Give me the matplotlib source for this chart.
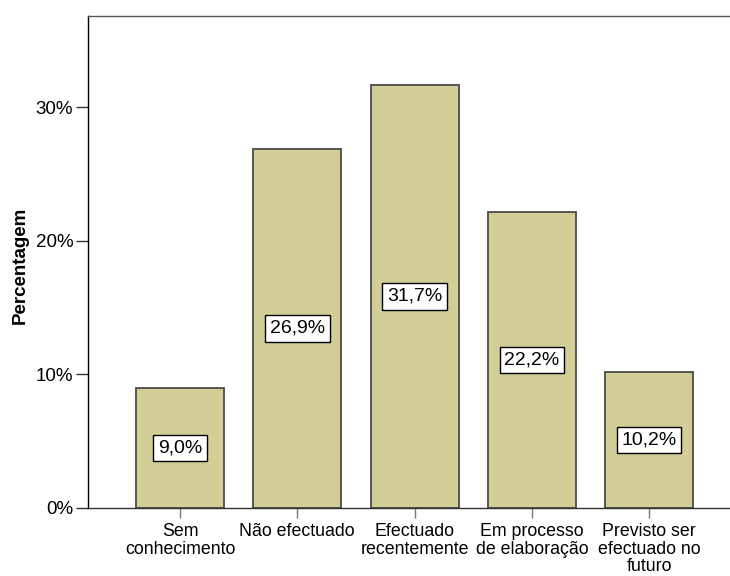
import matplotlib
matplotlib.use("Agg")
from matplotlib import pyplot as plt
import numpy as np

# data
categorias = ["Sem\nconhecimento", "Não efectuado", "Efectuado\nrecentemente",
              "Em processo\nde elaboração", "Previsto ser\nefectuado no\nfuturo"]
percentagens = [9.0, 26.9, 31.7, 22.2, 10.2]
rotulos = ["9,0%", "26,9%", "31,7%", "22,2%", "10,2%"]
yticks = [0, 10, 20, 30]
ytick_labels = ["0%", "10%", "20%", "30%"]

plt.rcParams['font.family'] = ['Liberation Sans', 'DejaVu Sans']

fig = plt.figure(figsize=(7.3, 5.76), dpi=100)
ax = fig.add_axes([88/730, 1 - 508/576, 1 - 88/730, (508 - 16)/576])

x = np.arange(len(categorias))
ax.bar(x, percentagens, width=0.75, color="#D3CE98", edgecolor="#4a4a4a", linewidth=1.3)

# value boxes at half height
for xi, v, lab in zip(x, percentagens, rotulos):
    ax.text(xi, v/2, lab, ha="center", va="center", fontsize=14,
            bbox=dict(boxstyle="square,pad=0.24", facecolor="white", edgecolor="black", linewidth=1))

ax.set_xlim(-0.785, 4.69)
ax.set_ylim(0, 36.85)
ax.set_yticks(yticks)
ax.set_yticklabels(ytick_labels, fontsize=13.5)
ax.set_xticks(x)
ax.set_xticklabels(categorias, fontsize=12.8, linespacing=1.04)
ax.tick_params(axis="y", length=8.6, width=1, color="#333333", pad=2)
ax.tick_params(axis="x", length=7, width=1, color="#777777", pad=4)

ax.spines["right"].set_visible(False)
ax.spines["top"].set_color("#555555")
ax.spines["left"].set_color("black")
ax.spines["bottom"].set_color("#333333")
for s in ax.spines.values():
    s.set_linewidth(1)

fig.text(20/730, 1 - 265/576, "Percentagem", rotation=90, ha="center", va="center",
         fontsize=13.5, fontweight="bold")

fig.savefig("out.png", dpi=100)
